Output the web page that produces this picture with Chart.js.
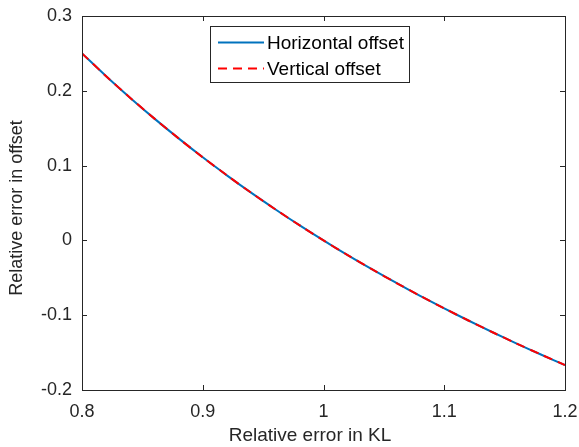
<!DOCTYPE html>
<html>
<head>
<meta charset="utf-8">
<script src="https://cdn.jsdelivr.net/npm/chart.js@4/dist/chart.umd.min.js"></script>
<style>
  html, body { margin: 0; padding: 0; background: #fff; }
  #wrap { width: 579px; height: 447px; }
</style>
</head>
<body>
<div id="wrap"><canvas id="offsetChart" width="579" height="447"></canvas></div>
<script>
// valores
const klError = [0.80, 0.82, 0.84, 0.86, 0.88, 0.90, 0.92, 0.94, 0.96, 0.98, 1.00,
                 1.02, 1.04, 1.06, 1.08, 1.10, 1.12, 1.14, 1.16, 1.18, 1.20];
const horizOffset = [0.25, 0.2195, 0.1905, 0.1628, 0.1364, 0.1111, 0.0870, 0.0638, 0.0417, 0.0204, 0,
                     -0.0196, -0.0385, -0.0566, -0.0741, -0.0909, -0.1071, -0.1228, -0.1379, -0.1525, -0.1667];
const vertOffset = [0.25, 0.2195, 0.1905, 0.1628, 0.1364, 0.1111, 0.0870, 0.0638, 0.0417, 0.0204, 0,
                    -0.0196, -0.0385, -0.0566, -0.0741, -0.0909, -0.1071, -0.1228, -0.1379, -0.1525, -0.1667];
const xTicks = [0.8, 0.9, 1.0, 1.1, 1.2];
const yTicks = [-0.2, -0.1, 0, 0.1, 0.2, 0.3];
const xLabel = "Relative error in KL";
const yLabel = "Relative error in offset";

const FONT = "'Liberation Sans', Arial, sans-serif";
const AXIS = "#262626";

// caja + marcas hacia adentro, estilo MATLAB
const boxTicks = {
  id: "boxTicks",
  afterDatasetsDraw(chart) {
    const { ctx, chartArea: a, scales: { x, y } } = chart;
    ctx.save();
    ctx.strokeStyle = AXIS;
    ctx.lineWidth = 1;
    ctx.strokeRect(Math.round(a.left) + 0.5, Math.round(a.top) + 0.5,
                   Math.round(a.right - a.left), Math.round(a.bottom - a.top));
    ctx.beginPath();
    xTicks.forEach(v => {
      const px = Math.round(x.getPixelForValue(v)) + 0.5;
      ctx.moveTo(px, a.bottom); ctx.lineTo(px, a.bottom - 5);
      ctx.moveTo(px, a.top); ctx.lineTo(px, a.top + 5);
    });
    yTicks.forEach(v => {
      const py = Math.round(y.getPixelForValue(v)) + 0.5;
      ctx.moveTo(a.left, py); ctx.lineTo(a.left + 5, py);
      ctx.moveTo(a.right, py); ctx.lineTo(a.right - 5, py);
    });
    ctx.stroke();

    // títulos de ejes
    ctx.fillStyle = AXIS;
    ctx.textAlign = "center";
    ctx.textBaseline = "middle";
    ctx.font = "19px " + FONT;
    ctx.fillText(xLabel, 310, 436);
    ctx.translate(17, 208);
    ctx.rotate(-Math.PI / 2);
    ctx.font = "18px " + FONT;
    ctx.fillText(yLabel, 0, 0);
    ctx.restore();
  }
};

// leyenda dentro del área
const boxLegend = {
  id: "boxLegend",
  afterDraw(chart) {
    const { ctx } = chart;
    const left = 210, top = 26, w = 199, h = 56;
    ctx.save();
    ctx.fillStyle = "#fff";
    ctx.fillRect(left, top, w, h);
    ctx.strokeStyle = AXIS;
    ctx.lineWidth = 1;
    ctx.strokeRect(left + 0.5, top + 0.5, w, h);
    ctx.font = "19px " + FONT;
    ctx.textBaseline = "middle";
    chart.data.datasets.forEach((ds, i) => {
      const ry = top + 16.5 + i * 26;
      ctx.strokeStyle = ds.borderColor;
      ctx.lineWidth = ds.borderWidth;
      ctx.setLineDash(ds.borderDash || []);
      ctx.beginPath();
      ctx.moveTo(218, ry); ctx.lineTo(264, ry);
      ctx.stroke();
      ctx.setLineDash([]);
      ctx.fillStyle = "#000";
      ctx.fillText(ds.label, 267, ry + 1);
    });
    ctx.restore();
  }
};

new Chart(document.getElementById("offsetChart"), {
  type: "line",
  data: {
    datasets: [
      {
        label: "Horizontal offset",
        data: klError.map((v, i) => ({ x: v, y: horizOffset[i] })),
        borderColor: "#0072BD",
        borderWidth: 2,
        pointRadius: 0,
        tension: 0.3,
        order: 2
      },
      {
        label: "Vertical offset",
        data: klError.map((v, i) => ({ x: v, y: vertOffset[i] })),
        borderColor: "#FF0000",
        borderWidth: 2,
        borderDash: [9, 6],
        pointRadius: 0,
        tension: 0.3,
        order: 1
      }
    ]
  },
  options: {
    responsive: false,
    animation: false,
    layout: { padding: { top: 16, right: 14, left: 0, bottom: 0 } },
    plugins: { legend: { display: false }, tooltip: { enabled: false } },
    scales: {
      x: {
        type: "linear",
        min: 0.8, max: 1.2,
        afterBuildTicks: s => { s.ticks = xTicks.map(v => ({ value: v })); },
        afterFit: s => { s.height = 57; s.paddingLeft = 0; s.paddingRight = 0; },
        grid: { display: false, drawTicks: false },
        border: { display: false },
        ticks: {
          color: "#262626", padding: 11,
          font: { family: FONT, size: 18 },
          callback: v => String(Math.round(v * 10) / 10)
        }
      },
      y: {
        type: "linear",
        min: -0.2, max: 0.3,
        afterBuildTicks: s => { s.ticks = yTicks.map(v => ({ value: v })); },
        afterFit: s => { s.width = 82; s.paddingTop = 0; s.paddingBottom = 0; },
        grid: { display: false, drawTicks: false },
        border: { display: false },
        ticks: {
          color: "#262626", padding: 10,
          font: { family: FONT, size: 18 },
          callback: v => String(Math.round(v * 10) / 10)
        }
      }
    }
  },
  plugins: [boxTicks, boxLegend]
});
</script>
</body>
</html>
